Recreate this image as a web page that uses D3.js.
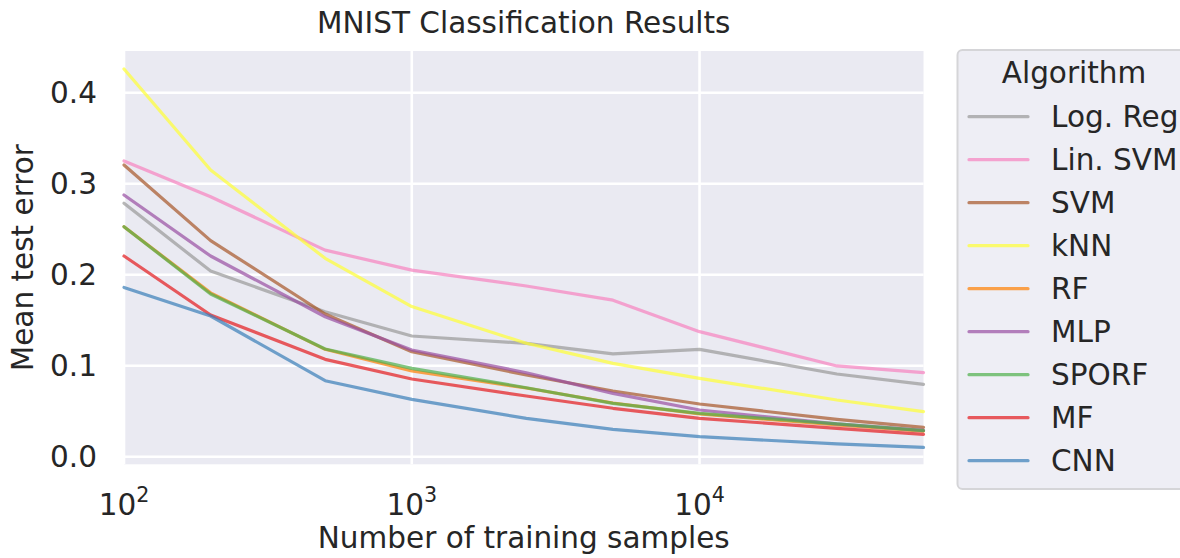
<!DOCTYPE html>
<html lang="en">
<head>
<meta charset="UTF-8">
<title>MNIST Classification Results</title>
<script src="https://cdn.jsdelivr.net/npm/d3@7"></script>
<style>
  body { margin: 0; background: #fff; }
  svg text { font-family: "DejaVu Sans", sans-serif; fill: #262626; }
</style>
</head>
<body>
<div id="chart"></div>
<script>
// Data
var samples = [100, 200, 500, 1000, 2500, 5000, 10000, 30000, 60000];
var algorithms = ["Log. Reg", "Lin. SVM", "SVM", "kNN", "RF", "MLP", "SPORF", "MF", "CNN"];
var colors = ["#999999", "#f781bf", "#a65628", "#ffff33", "#ff7f00", "#984ea3", "#4daf4a", "#e41a1c", "#377eb8"];

var logReg = [0.2785, 0.204, 0.1593, 0.1326, 0.1246, 0.1129, 0.118, 0.0909, 0.0795];
var linSvm = [0.325, 0.2857, 0.227, 0.205, 0.1876, 0.172, 0.1374, 0.0997, 0.0923];
var svm    = [0.3205, 0.2374, 0.1568, 0.1154, 0.0898, 0.0722, 0.0579, 0.041, 0.0323];
var knn    = [0.426, 0.315, 0.218, 0.165, 0.1246, 0.1026, 0.0861, 0.0623, 0.0495];
var rf     = [0.2527, 0.180, 0.118, 0.0942, 0.0755, 0.059, 0.047, 0.035, 0.028];
var mlp    = [0.2876, 0.2205, 0.1538, 0.1172, 0.0923, 0.0696, 0.0513, 0.036, 0.029];
var sporf  = [0.2527, 0.1788, 0.1183, 0.0971, 0.0758, 0.0586, 0.0477, 0.036, 0.0286];
var mf     = [0.2205, 0.1557, 0.107, 0.0854, 0.0667, 0.0532, 0.0422, 0.0312, 0.0246];
var cnn    = [0.186, 0.1546, 0.0835, 0.063, 0.0422, 0.0301, 0.022, 0.014, 0.0103];

var series = [logReg, linSvm, svm, knn, rf, mlp, sporf, mf, cnn];
var yTicks = [0.0, 0.1, 0.2, 0.3, 0.4];
var xTicks = [100, 1000, 10000];

// Figure size and plot area
var w = 1180, h = 558;
var plotLeft = 124, plotRight = 923.5, plotTop = 51, plotBottom = 464.3;
var fontSize = 29.5;

var svg = d3.select("#chart").append("svg")
  .attr("width", w)
  .attr("height", h);

var xScale = d3.scaleLog()
  .domain([100, 60000])
  .range([plotLeft, plotRight]);

var yScale = d3.scaleLinear()
  .domain([-0.00835, 0.4458])
  .range([plotBottom, plotTop]);

// Background of the axes
svg.append("rect")
  .attr("x", plotLeft)
  .attr("y", plotTop)
  .attr("width", plotRight - plotLeft)
  .attr("height", plotBottom - plotTop)
  .attr("fill", "#eaeaf2");

// Grid lines
svg.selectAll(".ygrid")
  .data(yTicks)
  .enter()
  .append("line")
  .attr("x1", plotLeft).attr("x2", plotRight)
  .attr("y1", function(d) { return yScale(d); })
  .attr("y2", function(d) { return yScale(d); })
  .attr("stroke", "#fff")
  .attr("stroke-width", 2.6);

svg.selectAll(".xgrid")
  .data(xTicks)
  .enter()
  .append("line")
  .attr("y1", plotTop).attr("y2", plotBottom)
  .attr("x1", function(d) { return xScale(d); })
  .attr("x2", function(d) { return xScale(d); })
  .attr("stroke", "#fff")
  .attr("stroke-width", 2.6);

// Lines
var line = d3.line()
  .x(function(d, i) { return xScale(samples[i]); })
  .y(function(d) { return yScale(d); });

svg.selectAll(".series")
  .data(series)
  .enter()
  .append("path")
  .attr("class", "series")
  .attr("d", line)
  .attr("fill", "none")
  .attr("stroke", function(d, i) { return colors[i]; })
  .attr("stroke-opacity", 0.7)
  .attr("stroke-width", 3.2)
  .attr("stroke-linejoin", "round")
  .attr("stroke-linecap", "round");

// Y tick labels
svg.selectAll(".ytick")
  .data(yTicks)
  .enter()
  .append("text")
  .attr("x", 97)
  .attr("y", function(d) { return yScale(d); })
  .attr("dy", "0.36em")
  .attr("text-anchor", "end")
  .style("font-size", fontSize + "px")
  .text(function(d) { return d.toFixed(1); });

// X tick labels (10^n)
var xt = svg.selectAll(".xtick")
  .data(xTicks)
  .enter()
  .append("text")
  .attr("x", function(d) { return xScale(d); })
  .attr("y", 515)
  .attr("text-anchor", "middle")
  .style("font-size", fontSize + "px");
xt.append("tspan").text("10");
xt.append("tspan")
  .attr("dy", -13)
  .style("font-size", (fontSize * 0.7) + "px")
  .text(function(d) { return Math.round(Math.log10(d)); });

// Axis labels and title
svg.append("text")
  .attr("x", (plotLeft + plotRight) / 2)
  .attr("y", 548)
  .attr("text-anchor", "middle")
  .style("font-size", fontSize + "px")
  .text("Number of training samples");

svg.append("text")
  .attr("transform", "translate(33," + ((plotTop + plotBottom) / 2) + ") rotate(-90)")
  .attr("text-anchor", "middle")
  .style("font-size", fontSize + "px")
  .text("Mean test error");

svg.append("text")
  .attr("x", (plotLeft + plotRight) / 2)
  .attr("y", 33)
  .attr("text-anchor", "middle")
  .style("font-size", fontSize + "px")
  .text("MNIST Classification Results");

// Legend
var legend = svg.append("g");
legend.append("rect")
  .attr("x", 957.5)
  .attr("y", 50)
  .attr("width", 236)
  .attr("height", 439)
  .attr("rx", 5)
  .attr("fill", "#eeeef5")
  .attr("stroke", "#d5d5d8")
  .attr("stroke-width", 2);

legend.append("text")
  .attr("x", 1074)
  .attr("y", 83)
  .attr("text-anchor", "middle")
  .style("font-size", fontSize + "px")
  .text("Algorithm");

var items = legend.selectAll(".item")
  .data(algorithms)
  .enter()
  .append("g")
  .attr("transform", function(d, i) { return "translate(0," + (116.7 + i * 43) + ")"; });

items.append("line")
  .attr("x1", 969).attr("x2", 1028)
  .attr("stroke", function(d, i) { return colors[i]; })
  .attr("stroke-opacity", 0.7)
  .attr("stroke-width", 3.2)
  .attr("stroke-linecap", "round");

items.append("text")
  .attr("x", 1051)
  .attr("y", 10.5)
  .style("font-size", fontSize + "px")
  .text(function(d) { return d; });
</script>
</body>
</html>
